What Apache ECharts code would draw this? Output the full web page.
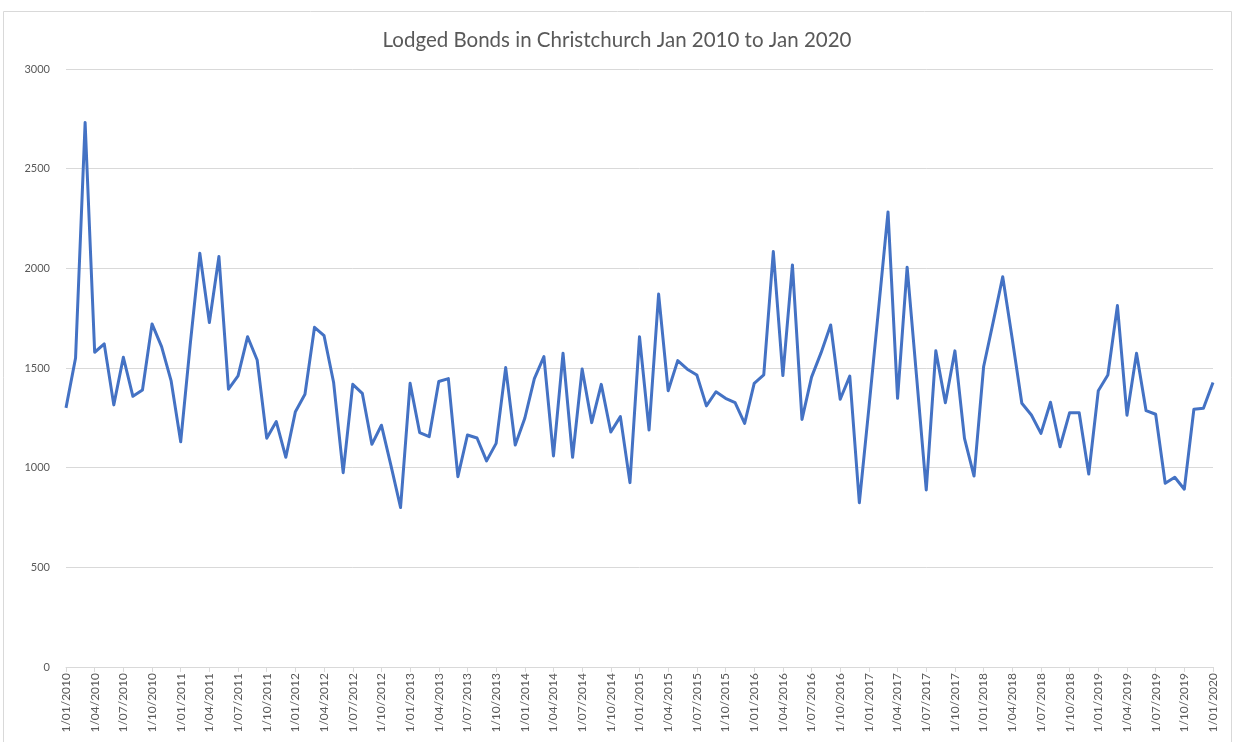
<!DOCTYPE html>
<html>
<head>
<meta charset="utf-8">
<script src="https://cdn.jsdelivr.net/npm/echarts@6/dist/echarts.min.js"></script>
<style>
html,body{margin:0;padding:0;background:#fff;}
#chart{width:1234px;height:742px;}
</style>
</head>
<body>
<div id="chart"></div>
<script>
var titleText = "Lodged Bonds in Christchurch Jan 2010 to Jan 2020";
var years = [2010, 2011, 2012, 2013, 2014, 2015, 2016, 2017, 2018, 2019, 2020];
var monthLabels = ["01","02","03","04","05","06","07","08","09","10","11","12"];
var yTicks = [0, 500, 1000, 1500, 2000, 2500, 3000];
var bonds = [
  1300, 1550, 2731, 1579, 1621, 1315, 1554, 1358, 1390, 1721, 1607, 1435,
  1130, 1620, 2076, 1728, 2059, 1394, 1460, 1657, 1540, 1148, 1231, 1052,
  1281, 1368, 1704, 1662, 1427, 975, 1418, 1373, 1117, 1213, 1010, 800,
  1423, 1176, 1156, 1432, 1447, 955, 1164, 1149, 1034, 1122, 1502, 1114,
  1248, 1447, 1557, 1059, 1574, 1052, 1495, 1226, 1418, 1179, 1256, 925,
  1657, 1189, 1871, 1386, 1537, 1494, 1465, 1310, 1381, 1348, 1326, 1222,
  1423, 1465, 2084, 1462, 2017, 1242, 1454, 1577, 1716, 1343, 1459, 824,
  1300, 1790, 2283, 1348, 2006, 1450, 888, 1586, 1326, 1586, 1147, 958,
  1506, 1730, 1958, 1645, 1323, 1264, 1172, 1328, 1105, 1276, 1276, 968,
  1386, 1465, 1813, 1263, 1574, 1286, 1268, 922, 952, 892, 1293, 1298,
  1427
];

var categories = [];
for (var yi = 0; yi < years.length; yi++) {
  for (var mi = 0; mi < 12; mi++) {
    if (categories.length < bonds.length) {
      categories.push("1/" + monthLabels[mi] + "/" + years[yi]);
    }
  }
}

var chart = echarts.init(document.getElementById('chart'));
chart.setOption({
  animation: false,
  backgroundColor: '#ffffff',
  title: {
    text: titleText,
    left: 'center',
    top: 25,
    textStyle: {
      fontFamily: 'Lato, "Open Sans", sans-serif',
      fontSize: 20.5,
      fontWeight: 'normal',
      color: '#595959'
    }
  },
  graphic: [{
    type: 'rect',
    shape: { x: 3.5, y: 11.5, width: 1228, height: 740 },
    style: { fill: 'none', stroke: '#d9d9d9', lineWidth: 1 },
    silent: true
  }],
  grid: { left: 66, right: 21, top: 69, bottom: 75, containLabel: false },
  xAxis: {
    type: 'category',
    data: categories,
    boundaryGap: false,
    axisLine: { show: true, lineStyle: { color: '#d9d9d9', width: 1 } },
    axisTick: { show: true, interval: 2, length: 5, lineStyle: { color: '#d9d9d9' } },
    axisLabel: {
      interval: 2,
      rotate: 90,
      margin: 6,
      fontFamily: 'Lato, "Open Sans", sans-serif',
      fontSize: 12,
      color: '#595959'
    },
    splitLine: { show: false }
  },
  yAxis: {
    type: 'value',
    min: yTicks[0],
    max: yTicks[yTicks.length - 1],
    interval: 500,
    axisLine: { show: false },
    axisTick: { show: false },
    axisLabel: {
      margin: 16,
      formatter: function (v) { return String(v); },
      fontFamily: 'Lato, "Open Sans", sans-serif',
      fontSize: 11,
      color: '#595959'
    },
    splitLine: { show: true, lineStyle: { color: '#d9d9d9', width: 1 } }
  },
  series: [{
    type: 'line',
    data: bonds,
    showSymbol: false,
    symbol: 'none',
    lineStyle: { color: '#4472C4', width: 3, join: 'round' },
    itemStyle: { color: '#4472C4' }
  }]
});
</script>
</body>
</html>
